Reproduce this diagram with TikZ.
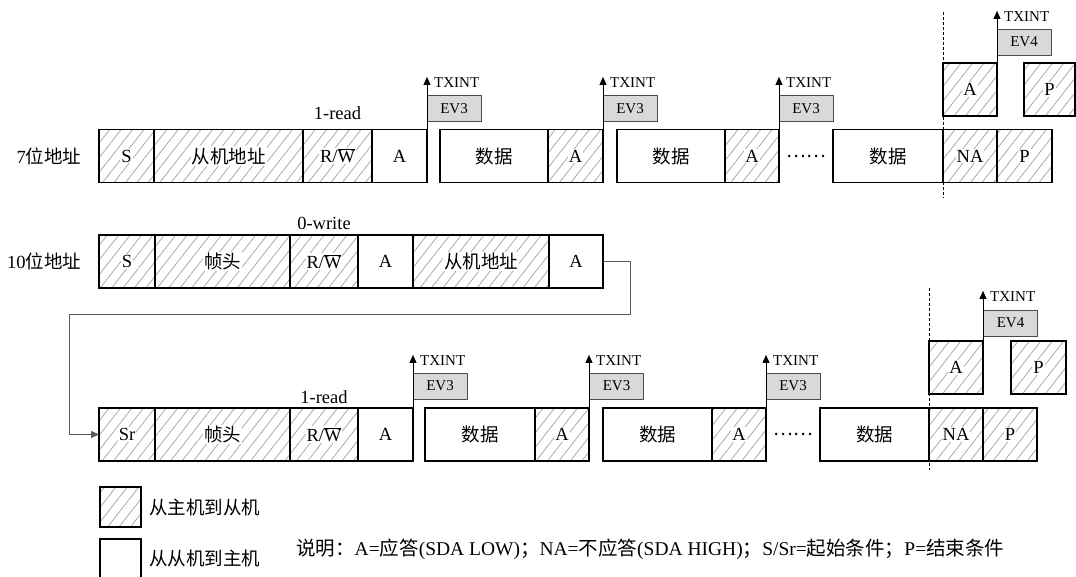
\documentclass[tikz,border=0pt]{standalone}
\usepackage{fontspec}
\setmainfont{Liberation Serif}
\newfontfamily\cjk{Noto Sans CJK SC}
\usepackage{tikz}
\usetikzlibrary{arrows.meta,patterns.meta,positioning}
\definecolor{evgray}{RGB}{217,217,217}
\definecolor{hatchgray}{RGB}{160,160,160}
\definecolor{linkgray}{RGB}{90,90,90}
\newcommand{\wb}[1]{{\setlength{\fboxsep}{1pt}\colorbox{white}{#1}}}
\newcommand{\rwbar}{R/$\overline{\hbox{W}}$}

\begin{document}
\begin{tikzpicture}[
        x=1pt, y=-1pt,
        font=\fontsize{18.5}{20}\selectfont,
        fld/.style={draw, line width=1.8pt, inner sep=0pt, outer sep=0pt, minimum height=53},
        mst/.style={fld, pattern={Lines[angle=52,distance=9pt,line width=0.7pt]}, pattern color=hatchgray},
        slv/.style={fld, fill=white},
        ev/.style={draw=black!70, fill=evgray, line width=0.6pt, minimum width=54, minimum height=26, inner sep=0pt, font=\fontsize{15}{16}\selectfont},
        lbl/.style={inner sep=1pt},
        tx/.style={inner sep=1pt, anchor=west, font=\fontsize{15}{16}\selectfont},
        irq/.style={line width=0.8pt, -{Triangle[length=8pt,width=7pt]}},
        link/.style={draw=linkgray, line width=1pt, -{Triangle[length=8pt,width=7pt]}},
        sep/.style={line width=0.6pt, dash pattern=on 3pt off 2pt}
    ]
        \useasboundingbox (0,0) rectangle (1076,577);

        % 7-bit address
        \node[lbl] (lab7) at (49,156) {7{\cjk 位地址}};
        \node[mst, minimum width=55] (r1s) at (126.5,156) {\wb{S}};
        \node[mst, minimum width=149] (r1addr) at (228.5,156) {\wb{\cjk 从机地址}};
        \node[mst, minimum width=69] (r1rw) at (337.5,156) {\wb{\rwbar}};
        \node[slv, minimum width=55] (r1a) at (399.5,156) {A};
        \node[slv, minimum width=108] (r1d1) at (494,156) {\cjk 数据};
        \node[mst, minimum width=55] (r1a1) at (575.5,156) {\wb{A}};
        \node[slv, minimum width=108] (r1d2) at (671,156) {\cjk 数据};
        \node[mst, minimum width=54] (r1a2) at (752,156) {\wb{A}};
        \node[lbl] (r1dots) at (806,156) {\cjk ……};
        \node[slv, minimum width=110] (r1d3) at (888,156) {\cjk 数据};
        \node[mst, minimum width=54] (r1na) at (970,156) {\wb{NA}};
        \node[mst, minimum width=55] (r1p) at (1024.5,156) {\wb{P}};
        \node[mst, minimum width=54] (r1ax) at (970,89.5) {\wb{A}};
        \node[mst, minimum width=51] (r1px) at (1049.5,89.5) {\wb{P}};
        \node[lbl] (r1op) at (337.5,113) {1-read};

        % 7-bit interrupts
        \node[ev] (r1e1) at (454,108.5) {EV3};
        \node[ev] (r1e2) at (630,108.5) {EV3};
        \node[ev] (r1e3) at (806,108.5) {EV3};
        \node[ev] (r1e4) at (1024,42) {EV4};
        \node[tx] (r1t1) at (433,83) {TXINT};
        \node[tx] (r1t2) at (609,83) {TXINT};
        \node[tx] (r1t3) at (785,83) {TXINT};
        \node[tx] (r1t4) at (1003,17) {TXINT};
        \draw[irq] (r1a.north east) -- (r1a.north east |- r1t1.north);
        \draw[irq] (r1a1.north east) -- (r1a1.north east |- r1t2.north);
        \draw[irq] (r1a2.north east) -- (r1a2.north east |- r1t3.north);
        \draw[irq] (r1ax.north east) -- (r1ax.north east |- r1t4.north);
        \coordinate (r1top) at (943,12);
        \coordinate (r1bot) at (943,198);
        \draw[sep] (r1top) -- (r1bot);

        % 10-bit address
        \node[lbl] (lab10) at (44,261.5) {10{\cjk 位地址}};
        \node[mst, minimum width=56] (r2s) at (127,261.5) {\wb{S}};
        \node[mst, minimum width=135] (r2hdr) at (222.5,261.5) {\wb{\cjk 帧头}};
        \node[mst, minimum width=68] (r2rw) at (324,261.5) {\wb{\rwbar}};
        \node[slv, minimum width=55] (r2a) at (385.5,261.5) {A};
        \node[mst, minimum width=136] (r2addr) at (481,261.5) {\wb{\cjk 从机地址}};
        \node[slv, minimum width=54] (r2a2) at (576,261.5) {A};
        \node[lbl] (r2op) at (324,223) {0-write};

        % repeated start
        \node[mst, minimum width=56] (r3s) at (127,434.5) {\wb{Sr}};
        \node[mst, minimum width=135] (r3hdr) at (222.5,434.5) {\wb{\cjk 帧头}};
        \node[mst, minimum width=68] (r3rw) at (324,434.5) {\wb{\rwbar}};
        \node[slv, minimum width=55] (r3a) at (385.5,434.5) {A};
        \node[slv, minimum width=110] (r3d1) at (480,434.5) {\cjk 数据};
        \node[mst, minimum width=54] (r3a1) at (562,434.5) {\wb{A}};
        \node[slv, minimum width=109] (r3d2) at (657.5,434.5) {\cjk 数据};
        \node[mst, minimum width=54] (r3a2) at (739,434.5) {\wb{A}};
        \node[lbl] (r3dots) at (793,434.5) {\cjk ……};
        \node[slv, minimum width=109] (r3d3) at (874.5,434.5) {\cjk 数据};
        \node[mst, minimum width=54] (r3na) at (956,434.5) {\wb{NA}};
        \node[mst, minimum width=54] (r3p) at (1010,434.5) {\wb{P}};
        \node[mst, minimum width=54] (r3ax) at (956,367.5) {\wb{A}};
        \node[mst, minimum width=55] (r3px) at (1038.5,367.5) {\wb{P}};
        \node[lbl] (r3op) at (324,397) {1-read};

        % 10-bit interrupts
        \node[ev] (r3e1) at (440,386) {EV3};
        \node[ev] (r3e2) at (616.5,386) {EV3};
        \node[ev] (r3e3) at (793,386) {EV3};
        \node[ev] (r3e4) at (1010.5,323) {EV4};
        \node[tx] (r3t1) at (419,361) {TXINT};
        \node[tx] (r3t2) at (595,361) {TXINT};
        \node[tx] (r3t3) at (772,361) {TXINT};
        \node[tx] (r3t4) at (989,297) {TXINT};
        \draw[irq] (r3a.north east) -- (r3a.north east |- r3t1.north);
        \draw[irq] (r3a1.north east) -- (r3a1.north east |- r3t2.north);
        \draw[irq] (r3a2.north east) -- (r3a2.north east |- r3t3.north);
        \draw[irq] (r3ax.north east) -- (r3ax.north east |- r3t4.north);
        \coordinate (r3top) at (929,288);
        \coordinate (r3bot) at (929,470);
        \draw[sep] (r3top) -- (r3bot);

        % loop back to Sr
        \coordinate (k1) at (630,314);
        \coordinate (k2) at (69,314);
        \draw[link] (r2a2.east) -| (k1) -- (k2) |- (r3s.west);

        % legend
        \node[mst, minimum width=41, minimum height=40] (keym) at (120.5,507) {};
        \node[slv, minimum width=41, minimum height=41] (keys) at (120.5,559.5) {};
        \node[lbl, anchor=west] (keymt) at (148,507) {\cjk 从主机到从机};
        \node[lbl, anchor=west] (keyst) at (148,558) {\cjk 从从机到主机};
        \node[lbl, anchor=west, font=\fontsize{19.5}{21}\selectfont] (note) at (295,549) {{\cjk 说明：}A={\cjk 应答}(SDA LOW){\cjk ；}NA={\cjk 不应答}(SDA HIGH){\cjk ；}S/Sr={\cjk 起始条件；}P={\cjk 结束条件}};
    \end{tikzpicture}
\end{document}
